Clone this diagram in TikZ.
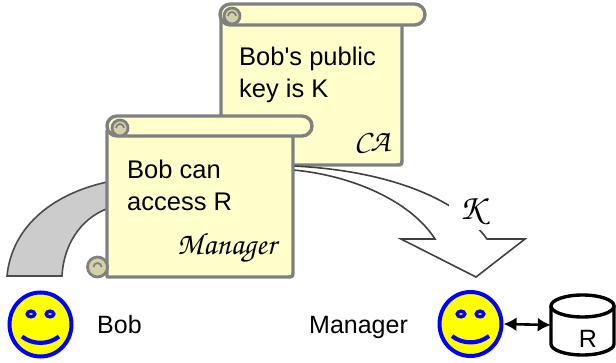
\documentclass[tikz,border=0pt]{standalone}
\usepackage{fontspec}
\setmainfont{Liberation Sans}
\usetikzlibrary{arrows.meta, calc, positioning, shapes.geometric}
\definecolor{scrollfill}{HTML}{FFFFCC}
\definecolor{scrollline}{HTML}{808080}
\definecolor{curlfill}{HTML}{D4D1A6}
\definecolor{bandgray}{HTML}{CCCCCC}
\definecolor{faceblue}{HTML}{0000FF}
\definecolor{faceyellow}{HTML}{FFFF00}
\newcommand{\chanc}{\fontencoding{OT1}\fontfamily{pzc}\fontseries{mb}\fontshape{it}\selectfont}

\begin{document}
\begin{tikzpicture}[x=1pt,y=-1pt,
    scroll/.style={draw=scrollline,fill=scrollfill,line width=3.4pt,line join=round},
    curl/.style={draw=scrollline,fill=curlfill,line width=2.8pt},
    curlin/.style={draw=scrollline,line width=1.8pt},
    stext/.style={font=\fontsize{25.5}{32.5}\selectfont,align=left,inner sep=0pt},
    sig/.style={font=\chanc\fontsize{31}{31}\selectfont,inner sep=0pt},
    lbl/.style={font=\fontsize{25}{30}\selectfont,inner sep=0pt},
    face/.style={ellipse,draw=faceblue,fill=faceyellow,line width=4pt,minimum width=62pt,minimum height=64pt,inner sep=0pt},
    eye/.style={draw=faceblue,fill=faceyellow,line width=3.4pt},
    smile/.style={draw=faceblue,line width=4.2pt}]
  \useasboundingbox (0,0) rectangle (616,363);

  % certificate signed by the CA
  \draw[scroll] (221,20) -- (221,165) -- (396,165) .. controls (402,165) .. (402,159) -- (402,20);
  \draw[curl] (211,155) circle[radius=10];
  \draw[scroll,rounded corners=10.5pt] (220,4) rectangle (425,25);
  \draw[curl] (232,16) circle[radius=8];
  \draw[curlin] (236,16) arc[start angle=0,end angle=-180,radius=4];
  \node[stext,anchor=north west] (catext) at (239,46.5) {Bob\textquotesingle s public\\key is K};
  \node[sig,anchor=base west] (casig) at (354,152) {CA};

  % hollow arrow carrying the key
  \draw[fill=white,draw=black!75,line width=1.6pt,line join=miter]
    (293,166) .. controls (380,170) and (455,195) .. (487,239) -- (525,239) -- (476,277)
    -- (401,239) -- (435,239) .. controls (410,200) and (350,175) .. (293,170) -- cycle;
  \node[fill=white,minimum width=44pt,minimum height=38pt,inner sep=0pt,font=\chanc\fontsize{36}{36}\selectfont] (keylbl) at (471,211) {K};

  % grey band from Bob
  \draw[fill=bandgray,draw=black!70,line width=1.6pt]
    (7,276) .. controls (12,225) and (55,192) .. (112,181) -- (112,207)
    .. controls (85,215) and (64,240) .. (62,276) -- cycle;

  % access certificate signed by the manager
  \draw[scroll] (107,130) -- (107,277) -- (287,277) .. controls (293,277) .. (293,271) -- (293,130);
  \draw[curl] (97.5,267) circle[radius=10];
  \draw[curlin] (101.5,267) arc[start angle=0,end angle=-180,radius=4];
  \draw[scroll,rounded corners=10pt] (107,116) rectangle (312,136);
  \draw[curl] (120,128) circle[radius=8];
  \draw[curlin] (124,128) arc[start angle=0,end angle=-180,radius=4];
  \node[stext,anchor=north west] (mgrtext) at (127,159.5) {Bob can\\access R};
  \node[sig,anchor=base west] (mgrsig) at (177,255) {Manager};

  % the two people
  \node[face] (bob) at (40.5,324.5) {};
  \draw[eye] ($(bob)+(-9.5,-10.5)$) ellipse[x radius=3.8,y radius=2.8];
  \draw[eye] ($(bob)+(9.5,-10.5)$) ellipse[x radius=3.8,y radius=2.8];
  \draw[smile] ($(bob)+(-18.5,12)$) .. controls ($(bob)+(-8,20.5)$) and ($(bob)+(8,20.5)$) .. ($(bob)+(18.5,12)$);
  \node[lbl,anchor=base west] (bobname) at (97,334) {Bob};

  \node[face] (mgr) at (470.5,324) {};
  \draw[eye] ($(mgr)+(-9.5,-10)$) ellipse[x radius=3.8,y radius=2.8];
  \draw[eye] ($(mgr)+(9.5,-10)$) ellipse[x radius=3.8,y radius=2.8];
  \draw[smile] ($(mgr)+(-18.5,12)$) .. controls ($(mgr)+(-8,20.5)$) and ($(mgr)+(8,20.5)$) .. ($(mgr)+(18.5,12)$);
  \node[lbl,anchor=base west] (mgrname) at (309,334) {Manager};

  % resource R
  \node[minimum width=63pt,minimum height=60pt,inner sep=0pt] (res) at (582.5,325) {};
  \draw[line width=3.4pt,fill=white] (551,306) -- (551,344) arc[start angle=180,end angle=0,x radius=31.5,y radius=11] -- (614,306);
  \draw[line width=3.4pt,fill=white] (582.5,306) ellipse[x radius=31.5,y radius=11];
  \node[lbl,anchor=base] (rlbl) at (588,348) {R};

  \draw[{Latex[length=13pt,width=14pt]}-{Latex[length=13pt,width=14pt]},line width=2.6pt] (mgr.east) -- (res.west);
\end{tikzpicture}
\end{document}
